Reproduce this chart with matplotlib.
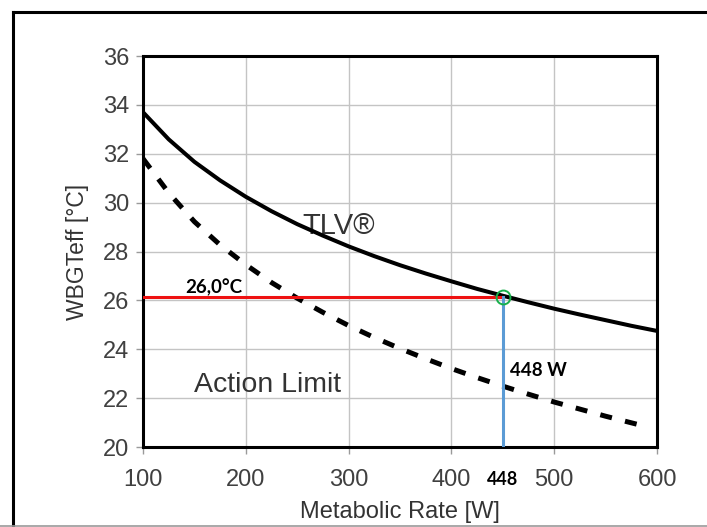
import matplotlib
matplotlib.use('agg')
import matplotlib.pyplot as plt
from matplotlib.lines import Line2D

# curve readings (W, °C)
metabolic_rate = [100, 125, 150, 175, 200, 225, 250, 275, 300, 325, 350, 375, 400,
                  425, 450, 475, 500, 525, 550, 575, 600]
tlv = [33.70, 32.59, 31.67, 30.91, 30.24, 29.65, 29.12, 28.65, 28.21, 27.81, 27.44,
       27.10, 26.78, 26.47, 26.19, 25.92, 25.66, 25.42, 25.19, 24.96, 24.75]
action_rate = [100, 125, 150, 175, 200, 225, 250, 275, 300, 325, 350, 375, 400,
               425, 450, 475, 500, 525, 550, 575, 590]
action_limit = [31.80, 30.40, 29.22, 28.27, 27.46, 26.73, 26.09, 25.51, 24.97, 24.48,
                24.03, 23.61, 23.21, 22.84, 22.49, 22.16, 21.84, 21.55, 21.26, 20.99, 20.83]

point_w = 450
point_t = 26.15
x_ticks = [100, 200, 300, 400, 500, 600]
y_ticks = [20, 22, 24, 26, 28, 30, 32, 34, 36]

plt.rcParams['font.family'] = ['Liberation Sans', 'DejaVu Sans']
bold_font = ['Lato', 'DejaVu Sans']

fig = plt.figure(figsize=(7.07, 5.27), dpi=100)
ax = fig.add_axes([0.2023, 0.1518, 0.7270, 0.7419])

ax.grid(True, which='major', color='#c4c4c4', linewidth=1.0)
ax.set_axisbelow(True)

ax.plot(metabolic_rate, tlv, color='black', linewidth=2.9, zorder=3)
ax.plot(action_rate, action_limit, color='black', linewidth=3.6,
        linestyle=(0, (2.4, 2.7)), zorder=3)

# marked operating point
ax.plot([100, point_w], [point_t, point_t], color='#ee1111', linewidth=2.2, zorder=4)
ax.plot([point_w, point_w], [20, point_t], color='#5b9bd5', linewidth=2.2, zorder=4)
ax.plot(point_w, point_t, marker='o', markersize=10, markerfacecolor='none',
        markeredgecolor='#16b04a', markeredgewidth=1.4, zorder=5)

ax.text(141, 26.28, '26,0°C', fontsize=13.5, fontweight='bold', family=bold_font,
        color='black', va='baseline', zorder=6)
ax.text(457, 22.9, '448 W', fontsize=13.5, fontweight='bold', family=bold_font,
        color='black', va='baseline', zorder=6)
ax.text(255, 28.7, 'TLV®', fontsize=21, color='#333333', va='baseline', zorder=2)
ax.text(150, 22.25, 'Action Limit', fontsize=20.5, color='#333333', va='baseline', zorder=2)

ax.set_xlim(100, 600)
ax.set_ylim(20, 36)
ax.set_xticks(x_ticks)
ax.set_yticks(y_ticks)
ax.tick_params(axis='both', which='major', labelsize=17, labelcolor='#404040',
               color='#9a9a9a', length=5, width=1, pad=5)
ax.tick_params(axis='x', which='major', pad=11)
ax.set_xticks([point_w], minor=True)
ax.set_xticklabels(['448'], minor=True, fontsize=13, fontweight='bold',
                   family=bold_font, color='black')
ax.tick_params(axis='x', which='minor', length=0, pad=17)

for s in ax.spines.values():
    s.set_linewidth(2.2)
    s.set_color('black')

ax.set_ylabel('WBGTeff [°C]', fontsize=16.5, color='#333333', labelpad=10)
ax.set_xlabel('Metabolic Rate [W]', fontsize=17, color='#333333', labelpad=7)

# outer frame of the picture
fig.add_artist(Line2D([13 / 707, 13 / 707], [0.002, 1 - 12 / 527], color='black', linewidth=2.2))
fig.add_artist(Line2D([13 / 707, 1.0], [1 - 12 / 527, 1 - 12 / 527], color='black', linewidth=2.2))
fig.add_artist(Line2D([0.0, 1.0], [0.002, 0.002], color='#999999', linewidth=1.2))

fig.savefig('out.png', dpi=100)
